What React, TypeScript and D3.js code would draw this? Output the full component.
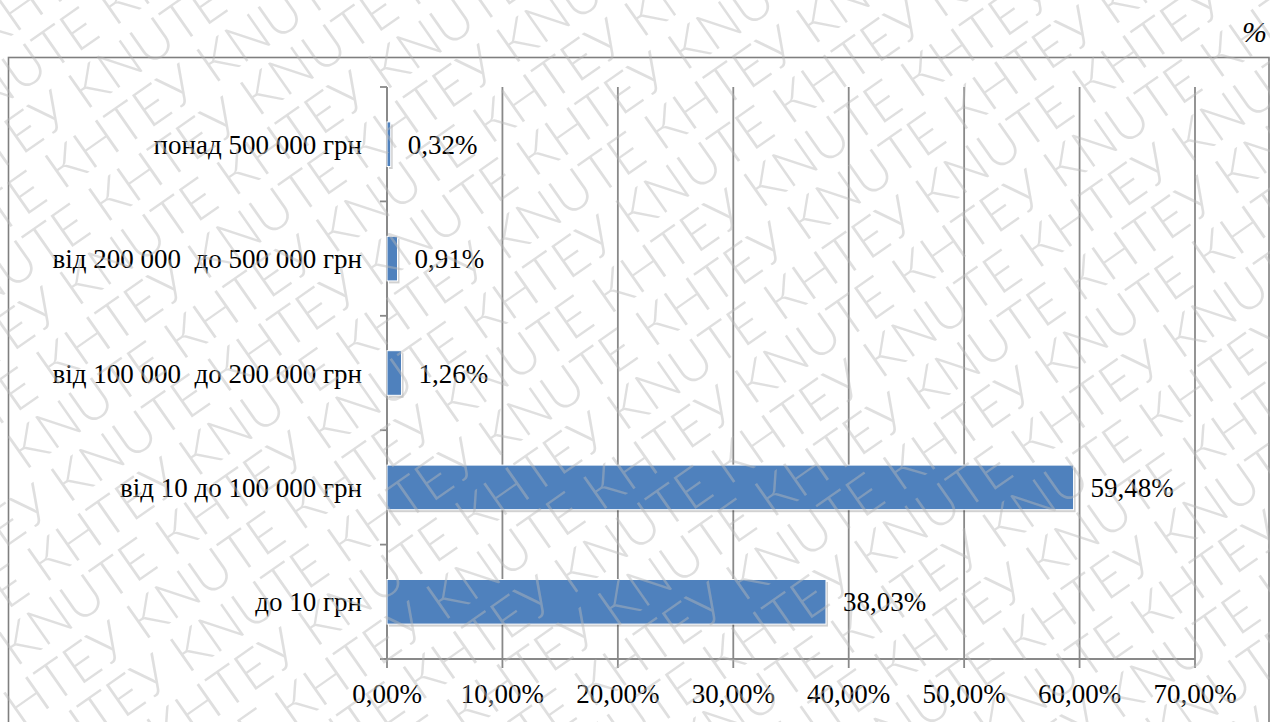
import React from 'react';
import * as d3 from 'd3';

// Distribution by amount band, % of total
const categories = [
  'понад 500 000 грн',
  'від 200 000\u00a0 до 500 000 грн',
  'від 100 000\u00a0 до 200 000 грн',
  'від 10 до 100 000 грн',
  'до 10 грн',
];
const shares = [0.32, 0.91, 1.26, 59.48, 38.03];
const xTicks = [0, 10, 20, 30, 40, 50, 60, 70];
const watermarkWords = ['KNUTE', 'КНТЕУ'];

const W = 1270;
const H = 722;
const M = { left: 387, right: 1195, top: 87, bottom: 659 };

const AXIS = '#898989';
const BAR = '#4F81BD';

const ua = d3.formatLocale({ decimal: ',', thousands: ' ', grouping: [3], currency: ['', ''] });
const pct = (v: number) => ua.format('.2f')(v) + '%';

const serif = { fontFamily: 'Liberation Serif', fontSize: 27 };

function Watermark() {
  const rows = d3.range(-13, 14);
  const phrase = d3.range(12).map((i) => watermarkWords[i % 2]).join(' ');
  return (
    <svg
      width={W}
      height={H}
      style={{ position: 'absolute', left: 0, top: 0, pointerEvents: 'none' }}
    >
      <g transform={`translate(${W / 2},${H / 2}) rotate(-35)`}>
        {rows.map((r) => (
          <text
            key={r}
            x={-1300 + (((r % 4) + 4) % 4) * 120}
            y={r * 52}
            style={{ fontFamily: 'Lato', fontWeight: 300, fontSize: 54 }}
            fill="#b8b8b8"
            fillOpacity={0.45}
          >
            {phrase}
          </text>
        ))}
      </g>
    </svg>
  );
}

function Chart() {
  const x = d3.scaleLinear().domain([0, 70]).range([M.left, M.right]);
  const y = d3.scaleBand<string>().domain(categories).range([M.top, M.bottom]).padding(0);
  const bw = y.bandwidth();
  const barH = bw * 0.39;
  const boundaries = d3.range(categories.length + 1).map((i) => M.top + i * y.step());

  return (
    <svg width={W} height={H} style={{ position: 'absolute', left: 0, top: 0 }}>
      <rect x={0} y={0} width={W} height={H} fill="#fff" />

      {/* unit mark */}
      <text x={1242} y={42} style={{ fontFamily: 'Liberation Serif', fontStyle: 'italic', fontSize: 30 }}>
        %
      </text>

      {/* chart frame */}
      <rect x={8.5} y={57.5} width={1260.5} height={H} fill="none" stroke="#7f7f7f" strokeWidth={1.6} />

      {/* vertical gridlines with ticks below the axis */}
      {xTicks.map((t) => (
        <line key={t} x1={x(t)} x2={x(t)} y1={M.top} y2={M.bottom + 9} stroke={AXIS} strokeWidth={1.8} />
      ))}

      {/* category axis */}
      <line x1={M.left} x2={M.left} y1={M.top} y2={M.bottom} stroke={AXIS} strokeWidth={1.8} />
      {boundaries.map((b, i) => (
        <line key={i} x1={M.left - 7} x2={M.left} y1={b} y2={b} stroke={AXIS} strokeWidth={1.8} />
      ))}
      <line x1={M.left - 7} x2={M.right} y1={M.bottom} y2={M.bottom} stroke={AXIS} strokeWidth={1.8} />

      {/* bar shadows */}
      {categories.map((c, i) => (
        <rect
          key={c + '-s'}
          x={x(0) + 2}
          y={(y(c) as number) + (bw - barH) / 2 + 2.5}
          width={x(shares[i]) - x(0)}
          height={barH}
          fill="#000"
          fillOpacity={0.18}
        />
      ))}

      {/* bars */}
      {categories.map((c, i) => (
        <rect
          key={c}
          x={x(0)}
          y={(y(c) as number) + (bw - barH) / 2}
          width={x(shares[i]) - x(0)}
          height={barH}
          fill={BAR}
          stroke="#fff"
          strokeWidth={1}
        />
      ))}

      {/* category labels */}
      {categories.map((c) => (
        <text key={c} x={M.left - 25} y={(y(c) as number) + bw / 2 + 9.5} textAnchor="end" style={serif}>
          {c}
        </text>
      ))}

      {/* value labels */}
      {categories.map((c, i) => (
        <text key={c} x={x(shares[i]) + 17} y={(y(c) as number) + bw / 2 + 9.5} style={serif}>
          {pct(shares[i])}
        </text>
      ))}

      {/* value axis labels */}
      {xTicks.map((t) => (
        <text key={t} x={x(t)} y={703} textAnchor="middle" style={serif}>
          {pct(t)}
        </text>
      ))}
    </svg>
  );
}

export default function App() {
  return (
    <div style={{ position: 'absolute', left: 0, top: 0, width: W, height: H, background: '#fff' }}>
      <Chart />
      <Watermark />
    </div>
  );
}
